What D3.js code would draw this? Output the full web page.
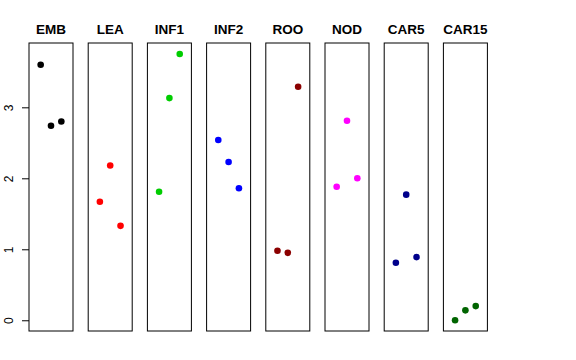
<!DOCTYPE html>
<html><head><meta charset="utf-8">
<script src="https://cdn.jsdelivr.net/npm/d3@7"></script>
<style>body{margin:0;background:#fff}svg{display:block}</style>
</head><body>
<svg id="chart" width="576" height="360"></svg>
<script>
const categories = ["EMB","LEA","INF1","INF2","ROO","NOD","CAR5","CAR15"];
const colors = ["#000000","#FF0000","#00CD00","#0000FF","#8B0000","#FF00FF","#00008B","#006400"];
const rep1 = [3.60, 1.67, 1.81, 2.54, 0.98, 1.88, 0.81, 0.00];
const rep2 = [2.74, 2.18, 3.13, 2.23, 0.95, 2.81, 1.77, 0.14];
const rep3 = [2.80, 1.33, 3.75, 1.86, 3.29, 2.00, 0.89, 0.20];
const yTicks = [0, 1, 2, 3];

const svg = d3.select("#chart");
const plotTop = 43, plotBottom = 331;
const band = d3.scaleBand().domain(categories).range([29, 487.4]).paddingInner(15.2/59.2).paddingOuter(0);
const y = d3.scaleLinear().domain([-0.151, 3.906]).range([plotBottom, plotTop]);
const x = d3.scaleLinear().domain([-0.13, 4.13]).range([0, band.bandwidth()]);

categories.forEach((c, i) => {
  const g = svg.append("g").attr("transform", `translate(${band(c)},0)`);
  g.append("rect").attr("x", 0).attr("y", plotTop).attr("width", band.bandwidth()).attr("height", plotBottom - plotTop)
    .attr("fill", "none").attr("stroke", "#000").attr("stroke-width", 1);
  const vals = [rep1[i], rep2[i], rep3[i]];
  g.selectAll("circle").data(vals).enter().append("circle")
    .attr("cx", (d, j) => x(j + 1)).attr("cy", d => y(d)).attr("r", 3.3).attr("fill", colors[i]);
  svg.append("text").attr("x", band(c) + band.bandwidth()/2).attr("y", 34)
    .attr("text-anchor", "middle").attr("font-family", "Liberation Sans, Arial, sans-serif")
    .attr("font-weight", "bold").attr("font-size", 13.5).text(c);
});

const axis = d3.axisLeft(y).tickValues(yTicks).tickSize(7).tickPadding(4).tickFormat(d3.format("d"));
const ag = svg.append("g").attr("transform", `translate(${band(categories[0])},0)`).call(axis);
ag.select(".domain").remove();
ag.selectAll("line").attr("stroke", "#000");
ag.selectAll("text").attr("font-family", "Liberation Sans, Arial, sans-serif").attr("font-size", 12)
  .attr("fill", "#000").attr("text-anchor", "middle").attr("dy", null)
  .attr("x", 0).attr("y", 0)
  .attr("transform", "translate(-15.7,0) rotate(-90)");
</script>
</body></html>
